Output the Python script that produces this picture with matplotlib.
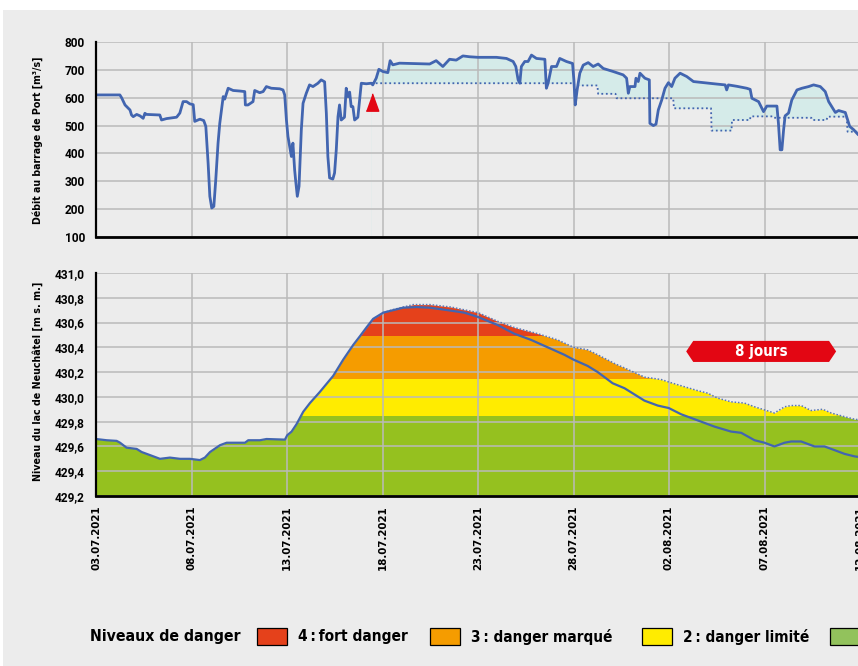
import os
import numpy as np
import matplotlib
matplotlib.use("Agg")
import matplotlib.pyplot as plt
from matplotlib.patches import Rectangle, Polygon
from matplotlib import font_manager as fm
from matplotlib.font_manager import FontProperties

# ---------------- data ----------------
tick_days = [0, 5, 10, 15, 20, 25, 30, 35, 40]
tick_labels = ["03.07.2021", "08.07.2021", "13.07.2021", "18.07.2021", "23.07.2021",
               "28.07.2021", "02.08.2021", "07.08.2021", "12.08.2021"]

flow_ticks = [100, 200, 300, 400, 500, 600, 700, 800]
level_ticks = [429.2, 429.4, 429.6, 429.8, 430.0, 430.2, 430.4, 430.6, 430.8, 431.0]
level_tick_labels = ["429,2", "429,4", "429,6", "429,8", "430,0", "430,2", "430,4",
                     "430,6", "430,8", "431,0"]

# Débit mesuré au barrage de Port (jours depuis le 03.07.2021)
flow_days = [0.0, 1.25, 1.34, 1.52, 1.78, 1.86, 1.95, 2.13, 2.30, 2.47, 2.56, 2.65, 3.34, 3.43,
             3.69, 4.22, 4.39, 4.56, 4.74, 4.91, 5.09, 5.17, 5.44, 5.64, 5.75, 5.87, 5.96, 6.06,
             6.17, 6.27, 6.39, 6.48, 6.66, 6.74, 6.92, 7.18, 7.53, 7.79, 7.82, 7.96, 8.22, 8.31,
             8.57, 8.75, 8.92, 9.18, 9.62, 9.79, 9.88, 9.97, 10.05, 10.14, 10.23, 10.31, 10.40,
             10.45, 10.54, 10.63, 10.75, 10.84, 11.01, 11.18, 11.36, 11.62, 11.79, 11.97, 12.06,
             12.14, 12.23, 12.40, 12.49, 12.58, 12.67, 12.75, 12.84, 13.01, 13.10, 13.19, 13.28,
             13.36, 13.45, 13.54, 13.71, 13.80, 13.89, 14.15, 14.41, 14.49, 14.67, 14.81, 15.02,
             15.28, 15.40, 15.54, 15.89, 17.47, 17.81, 18.16, 18.51, 18.86, 19.21, 19.56, 20.0,
             20.96, 21.49, 21.84, 21.98, 22.10, 22.19, 22.27, 22.45, 22.62, 22.80, 23.06, 23.50,
             23.58, 23.67, 23.85, 24.11, 24.28, 24.63, 24.95, 25.02, 25.09, 25.19, 25.33, 25.51,
             25.77, 26.03, 26.29, 26.56, 27.08, 27.60, 27.78, 27.87, 27.95, 28.22, 28.27, 28.39,
             28.48, 28.74, 28.97, 29.0, 29.18, 29.32, 29.44, 29.62, 29.79, 29.97, 30.14, 30.31,
             30.58, 30.93, 31.28, 31.80, 32.50, 32.94, 33.02, 33.11, 33.55, 34.07, 34.25, 34.34,
             34.51, 34.69, 34.95, 35.12, 35.65, 35.73, 35.82, 35.91, 36.0, 36.08, 36.26, 36.43,
             36.70, 36.96, 37.31, 37.57, 37.92, 38.18, 38.36, 38.71, 38.88, 39.23, 39.46, 39.67,
             39.91, 40.2]
flow = [610, 610, 600, 574, 556, 538, 532, 540, 535, 526, 544, 540, 538, 520,
        525, 530, 545, 586, 586, 578, 575, 515, 523, 518, 497, 365, 246, 204,
        210, 305, 437, 508, 604, 595, 634, 626, 624, 622, 574, 574, 586, 626,
        618, 622, 640, 634, 632, 628, 610, 520, 461, 425, 389, 437, 341,
        305, 246, 282, 485, 580, 616, 646, 640, 652, 664, 657, 544,
        389, 312, 308, 330, 413, 532, 574, 520, 530, 634, 604, 620,
        568, 568, 520, 530, 592, 652, 650, 652, 646, 670, 702, 694,
        690, 733, 718, 724, 721, 733, 712, 738, 735, 750, 747, 745,
        745, 741, 730, 712, 664, 652, 712, 730, 730, 753, 741, 738,
        634, 652, 712, 712, 741, 730, 723, 664, 574, 628, 688, 717,
        726, 712, 721, 705, 694, 682, 670, 616, 640, 640, 670, 658,
        688, 670, 664, 508, 500, 505, 556, 592, 634, 654, 640, 670,
        688, 676, 658, 654, 649, 646, 628, 646, 641, 634, 630, 598,
        592, 586, 550, 570, 570, 508, 413, 413, 485, 535, 545, 592,
        628, 634, 640, 646, 640, 622, 586, 547, 554, 547, 497, 485,
        467, 460]

# Débit sans régulation (ligne pointillée)
flow_alt_days = [14.41, 25.0, 25.05, 26.25, 26.29, 27.2, 27.26, 30.22, 30.26, 32.2, 32.23,
                 33.27, 33.3, 34.24, 34.27, 35.45, 35.5, 37.45, 37.5, 38.25, 38.3, 39.3,
                 39.35, 40.2]
flow_alt = [652, 652, 644, 644, 614, 614, 598, 598, 562, 562, 482,
            482, 520, 520, 533, 533, 528, 528, 520, 520, 532, 532,
            478, 478]

# Niveau du lac de Neuchâtel mesuré
level_days = [0, 0.56, 1.08, 1.26, 1.60, 2.13, 2.39, 2.83, 3.35, 3.87, 4.40, 4.92, 5.44, 5.70,
              5.97, 6.49, 6.84, 7.80, 7.97, 8.58, 8.93, 9.89, 10.01, 10.24, 10.50, 10.85,
              11.20, 11.72, 12.42, 12.94, 13.47, 13.82, 14.16, 14.51, 15.04, 15.56, 16.08,
              16.78, 17.48, 18.41, 19.28, 20.0, 21.03, 21.90, 22.78, 23.65, 24.52, 25.01,
              25.74, 26.27, 27.05, 27.67, 28.71, 29.41, 29.99, 30.63, 31.51, 32.38, 33.25,
              33.78, 34.48, 35.0, 35.52, 36.05, 36.40, 36.92, 37.62, 38.14, 38.67, 39.19,
              39.71, 40.2]
level = [429.66, 429.65, 429.645, 429.63, 429.59, 429.58, 429.555, 429.53, 429.50, 429.51,
         429.50, 429.50, 429.49, 429.51, 429.555, 429.61, 429.63, 429.63, 429.65, 429.65,
         429.66, 429.655, 429.69, 429.72, 429.78, 429.88, 429.95, 430.04, 430.17, 430.30,
         430.42, 430.49, 430.56, 430.63, 430.68, 430.70, 430.72, 430.725, 430.72, 430.70,
         430.68, 430.645, 430.58, 430.51, 430.46, 430.40, 430.34, 430.30, 430.25, 430.20,
         430.11, 430.07, 429.97, 429.93, 429.91, 429.86, 429.81, 429.76, 429.72, 429.71,
         429.65, 429.63, 429.60, 429.63, 429.64, 429.64, 429.60, 429.60, 429.57, 429.54,
         429.52, 429.51]

# Niveau du lac sans régulation (ligne pointillée)
level_alt_days = [15.04, 15.56, 16.61, 17.48, 18.59, 20.0, 21.03, 21.90, 23.13, 24.17, 25.01,
                  25.74, 26.27, 27.14, 28.01, 28.71, 29.59, 29.99, 30.63, 31.51, 32.03, 32.55,
                  33.25, 33.95, 34.48, 35.52, 36.05, 36.40, 36.92, 37.44, 38.05, 38.49, 39.19,
                  39.71, 40.2]
level_alt = [430.68, 430.705, 430.745, 430.745, 430.725, 430.68, 430.61, 430.56, 430.51,
             430.46, 430.40, 430.38, 430.34, 430.27, 430.21, 430.16, 430.14, 430.12, 430.09,
             430.05, 430.03, 429.99, 429.96, 429.95, 429.92, 429.87, 429.92, 429.93, 429.93,
             429.89, 429.90, 429.87, 429.84, 429.82, 429.81]

# Seuils des niveaux de danger [m s. m.]
danger_bounds = [429.2, 429.85, 430.15, 430.50, 431.0]
danger_colors = ["#95c11f", "#ffec00", "#f59c00", "#e5411b"]
legend_title = "Niveaux de danger"
danger_labels = ["4\u2009:\u2009fort danger", "3\u2009: danger marqué", "2\u2009: danger limité"]
legend_colors = ["#e5411b", "#f59c00", "#ffec00", "#92c25c"]

# annotations
marker_day, marker_flow = 14.45, 586
banner_start, banner_end, banner_level = 30.9, 38.75, 430.367
banner_text = "8 jours"

# ---------------- fonts ----------------
def find_font(patterns):
    files = [f.fname for f in fm.fontManager.ttflist]
    for pat in patterns:
        for fn in files:
            if os.path.basename(fn).lower() == pat.lower():
                return fn
    return None

narrow_file = find_font(["LiberationSansNarrow-Bold.ttf", "DejaVuSansCondensed-Bold.ttf",
                         "OpenSans_Condensed-Bold.ttf", "OpenSans-CondBold.ttf",
                         "Roboto-Bold.ttf", "Lato-Bold.ttf"])
if narrow_file:
    NARROW = FontProperties(fname=narrow_file)
else:
    NARROW = FontProperties(family="DejaVu Sans", weight="bold")

names = {f.name for f in fm.fontManager.ttflist}
TICKF = "Roboto" if "Roboto" in names else "DejaVu Sans"

BG = "#ececec"
GRID = "#bababa"
BLUE = "#4265b0"
RED = "#e30613"

W, H = 858, 666
fig = plt.figure(figsize=(W / 100, H / 100), dpi=100, facecolor="white")
fig.patches.append(Rectangle((3 / W, 0), 1, (H - 10) / H, transform=fig.transFigure,
                             facecolor=BG, edgecolor="none", zorder=-10))
renderer = fig.canvas.get_renderer()


def fit(txt, target_px, horizontal=True):
    """scale font size so the text spans target_px pixels"""
    txt.set_fontsize(10)
    bb = txt.get_window_extent(renderer=renderer)
    size = bb.width if horizontal else bb.height
    txt.set_fontsize(10 * target_px / size)
    return txt


ax1 = fig.add_axes([96 / W, (H - 237) / H, 764 / W, 195 / H])
ax2 = fig.add_axes([96 / W, (H - 496) / H, 764 / W, 223 / H])

for ax in (ax1, ax2):
    ax.set_facecolor(BG)
    ax.set_axisbelow(False)
    ax.set_xlim(0, 40)
    ax.set_xticks(tick_days)
    ax.grid(True, color=GRID, linewidth=1.1)
    ax.tick_params(length=0, pad=8)
    for s in ("top", "right"):
        ax.spines[s].set_visible(False)
    ax.spines["left"].set_linewidth(1.6)
    ax.spines["bottom"].set_linewidth(2.0)
    ax.spines["left"].set_zorder(4)
    ax.spines["bottom"].set_zorder(4)

# ---- top panel ----
fd = np.array(flow_days)
fv = np.array(flow)
ax1.set_ylim(100, 800)
ax1.set_yticks(flow_ticks)
ax1.set_yticklabels([str(v) for v in flow_ticks], fontfamily=TICKF, fontweight="bold",
                    fontsize=8.6)
ax1.set_xticklabels([])
ax1.fill_between(fd, 100, fv, where=fd >= flow_alt_days[0], color="#d5ebe9", lw=0, zorder=1)
ax1.fill_between(flow_alt_days, 100, flow_alt, color=BG, lw=0, zorder=1.5)
ax1.plot(flow_alt_days, flow_alt, color=BLUE, lw=1.3, ls=(0, (1, 1.5)), zorder=3)
ax1.plot(fd, fv, color=BLUE, lw=2.0, zorder=3.2, solid_joinstyle="round")
ax1.plot([marker_day], [marker_flow], marker=[(-0.36, -0.5), (0.36, -0.5), (0, 0.5)],
         markersize=12.5, color=RED, ls="none", zorder=5)

# ---- bottom panel ----
ld = np.array(level_days)
lv = np.array(level)
ax2.set_ylim(429.2, 431.0)
ax2.set_yticks(level_ticks)
ax2.set_yticklabels(level_tick_labels, fontfamily=TICKF, fontweight="bold", fontsize=8.6)
ax2.set_xticklabels(tick_labels, rotation=90, fontfamily="DejaVu Sans", fontweight="bold",
                    fontsize=7.4, va="top")
ax2.tick_params(axis="x", pad=7)

mask = ld < level_alt_days[0]
fill_days = np.concatenate([ld[mask], level_alt_days])
fill_vals = np.concatenate([lv[mask], level_alt])
for lo, hi, col in zip(danger_bounds[:-1], danger_bounds[1:], danger_colors):
    poly = ax2.fill_between(fill_days, 429.2, fill_vals, color=col, lw=0, zorder=1)
    clip = Rectangle((-5, lo), 60, hi - lo, transform=ax2.transData)
    poly.set_clip_path(clip)
ax2.plot(level_alt_days, level_alt, color="#5b78b6", lw=1.1, ls=(0, (1, 1.2)), zorder=3)
ax2.plot(ld, lv, color=BLUE, lw=1.6, zorder=3.2)

# banner "8 jours"
bh = 0.085
tip = 0.37
ax2.add_patch(Polygon([(banner_start, banner_level), (banner_start + tip, banner_level + bh),
                       (banner_end - tip, banner_level + bh), (banner_end, banner_level),
                       (banner_end - tip, banner_level - bh), (banner_start + tip, banner_level - bh)],
                      closed=True, facecolor=RED, edgecolor="none", zorder=5))
t = ax2.text((banner_start + banner_end) / 2, banner_level, banner_text, color="white",
             fontproperties=NARROW, ha="center", va="center", zorder=6)
fit(t, 52)

# axis labels
t = fig.text(38 / W, (H - 140) / H, "Débit au barrage de Port [m³/s]", rotation=90,
             ha="center", va="center", fontproperties=NARROW)
fit(t, 166, horizontal=False)
t = fig.text(38 / W, (H - 381) / H, "Niveau du lac de Neuchâtel [m s. m.]", rotation=90,
             ha="center", va="center", fontproperties=NARROW)
fit(t, 199, horizontal=False)

# legend
ly = (H - 637) / H
t = fig.text(90 / W, ly, legend_title, ha="left", va="center", fontproperties=NARROW)
fit(t, 150)
box_x = [257, 430, 642, 830]
text_w = [109, 141, 126]
for i, bx in enumerate(box_x):
    fig.patches.append(Rectangle((bx / W, (H - 645) / H), 30 / W, 17 / H,
                                 transform=fig.transFigure, facecolor=legend_colors[i],
                                 edgecolor="black", linewidth=0.9))
    if i < len(danger_labels):
        t = fig.text((bx + 41) / W, ly, danger_labels[i], ha="left", va="center",
                     fontproperties=NARROW)
        fit(t, text_w[i])

fig.savefig("out.png", dpi=100, facecolor="white")
